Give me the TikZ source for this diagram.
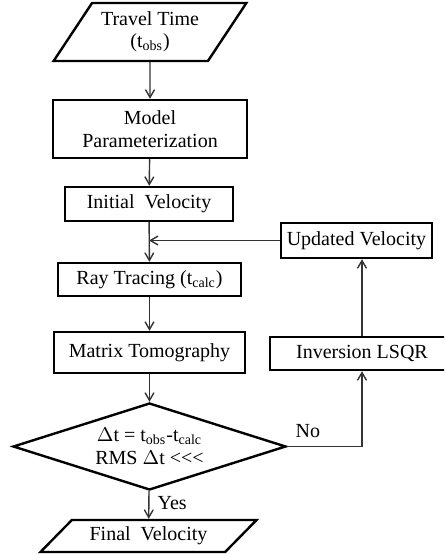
\documentclass[tikz,border=0pt]{standalone}
\usepackage{fontspec}
\setmainfont{Liberation Serif}
\usetikzlibrary{calc,positioning,shapes.geometric,arrows}
\tikzset{
  prog/.style={rectangle, draw=black, line width=1.2pt, text centered, inner sep=0pt, font=\fontsize{10}{11.5}\selectfont},
  io/.style={trapezium, trapezium stretches=true, draw=black, line width=1.2pt, align=center, inner sep=0pt, font=\fontsize{10}{11}\selectfont},
  dec/.style={diamond, draw=black, line width=1.2pt, align=center, inner sep=0pt, font=\fontsize{10}{11.5}\selectfont},
  line/.style={draw, line width=0.7pt, black!80, ->, >=angle 60},
  lbl/.style={font=\fontsize{10}{11}\selectfont, inner sep=0pt, text=black},
}

\begin{document}
\begin{tikzpicture}[x=0.5pt,y=-0.5pt]
    \path[use as bounding box, clip] (0,0) rectangle (444,555);

    \node[io, trapezium left angle=51, trapezium right angle=129, minimum width=97pt, minimum height=29pt] (tobs) at (150,32) {Travel Time\\(t\textsubscript{obs})};
    \node[prog, align=center, minimum width=97pt, minimum height=29pt] (param) at (150,129) {Model\\Parameterization};
    \node[prog, minimum width=84pt, minimum height=17pt] (init) at (149,204) {Initial\ \ Velocity};
    \node[prog, minimum width=75.5pt, minimum height=17.5pt] (upd) at (356.5,240.5) {Updated Velocity};
    \node[prog, minimum width=91.5pt, minimum height=16.5pt] (ray) at (149.5,279.5) {Ray Tracing (t\textsubscript{calc})};
    \node[prog, minimum width=95.5pt, minimum height=20.5pt] (tomo) at (149.5,352.5) {Matrix Tomography};
    \node[prog, minimum width=92pt, minimum height=16.5pt] (lsqr) at (362,353.5) {Inversion LSQR};
    \node[dec, minimum width=136.5pt, minimum height=43.5pt, aspect=3.1] (rms) at (149.5,446.5) {$\Delta$t = t\textsubscript{obs}-t\textsubscript{calc}\\RMS $\Delta$t <{}<{}<};
    \node[io, trapezium left angle=37, trapezium right angle=143, minimum width=108.5pt, minimum height=16pt] (final) at (148.5,536) {Final\ \ Velocity};

    \coordinate (join) at (init.south |- upd.west);
    \coordinate (turn) at (rms.east -| lsqr.south);

    \begin{scope}[every path/.style=line]
      \path (tobs) -- (param);
      \path (param) -- (init);
      \path (init) -- (ray);
      \path (upd.west) -- (join);
      \path (ray) -- (tomo);
      \path (tomo) -- (rms);
      \path (rms) -- node[lbl, right=4pt, pos=0.45] (yes) {Yes} (final);
      \path[-] (rms.east) -- (turn);
      \path (turn) -- (lsqr.south);
      \path (lsqr.north) -- (lsqr.north |- upd.south);
    \end{scope}
    \node[lbl, above right=4pt and 4pt of rms.east] (no) {No};
  \end{tikzpicture}
\end{document}
